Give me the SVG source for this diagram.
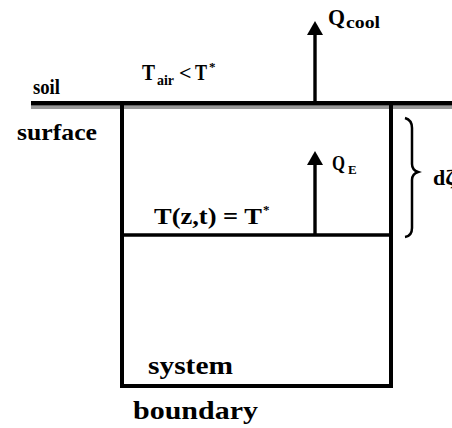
<svg xmlns="http://www.w3.org/2000/svg" width="452" height="428" viewBox="0 0 452 428">
<style>
text{font-family:"Liberation Serif","Times New Roman",serif;font-weight:bold;fill:#000}
.ln{stroke:#000;fill:none}
</style>
<defs>
<marker id="ah" viewBox="0 0 14 16" refX="1" refY="8" markerWidth="14" markerHeight="16" markerUnits="userSpaceOnUse" orient="auto">
<path d="M0,0 L14,8 L0,16 Z" fill="#000"/>
</marker>
</defs>
<rect width="452" height="428" fill="#fff"/>
<g id="soil-surface">
<rect x="31" y="105.5" width="421" height="3.5" fill="#999"/>
<rect x="31" y="101" width="421" height="4.5" fill="#000"/>
<text x="33" y="94" font-size="21" textLength="27" lengthAdjust="spacingAndGlyphs">soil</text>
<text x="17" y="140" font-size="24" textLength="80" lengthAdjust="spacingAndGlyphs">surface</text>
</g>
<g id="system-box">
<path class="ln" d="M122,103 V386 H391 V103" stroke-width="4"/>
<line class="ln" x1="122" y1="235" x2="391" y2="235" stroke-width="3.5"/>
<text x="148" y="374" font-size="25" textLength="85" lengthAdjust="spacingAndGlyphs">system</text>
<text x="133" y="419" font-size="26" textLength="125" lengthAdjust="spacingAndGlyphs">boundary</text>
</g>
<g id="labels">
<text x="142" y="80" font-size="23" textLength="13" lengthAdjust="spacingAndGlyphs">T</text>
<text x="157" y="85" font-size="15" textLength="17" lengthAdjust="spacingAndGlyphs">air</text>
<text x="179" y="80" font-size="22">&lt;</text>
<text x="195" y="80" font-size="23" textLength="12" lengthAdjust="spacingAndGlyphs">T</text>
<text x="209" y="71" font-size="13">*</text>
<text x="154" y="224" font-size="23" textLength="108" lengthAdjust="spacingAndGlyphs">T(z,t) = T</text>
<text x="263" y="214" font-size="13">*</text>
<text x="328" y="25" font-size="24" textLength="17" lengthAdjust="spacingAndGlyphs">Q</text>
<text x="346" y="28" font-size="16" textLength="34" lengthAdjust="spacingAndGlyphs">cool</text>
<text x="332" y="170" font-size="21" textLength="13" lengthAdjust="spacingAndGlyphs">Q</text>
<text x="348" y="174" font-size="13">E</text>
<text x="433" y="185" font-size="22">dζ</text>
</g>
<g id="connectors">
<line class="ln" x1="315" y1="103" x2="315" y2="34" stroke-width="3.4" marker-end="url(#ah)"/>
<line class="ln" x1="315" y1="235" x2="315" y2="164" stroke-width="3.4" marker-end="url(#ah)"/>
<path class="ln" stroke-width="2.5" d="M405,118 Q412,120 412,128 V164 Q412,170 418,172 Q412,174 412,180 V228 Q412,236 405,237"/>
</g>
</svg>
